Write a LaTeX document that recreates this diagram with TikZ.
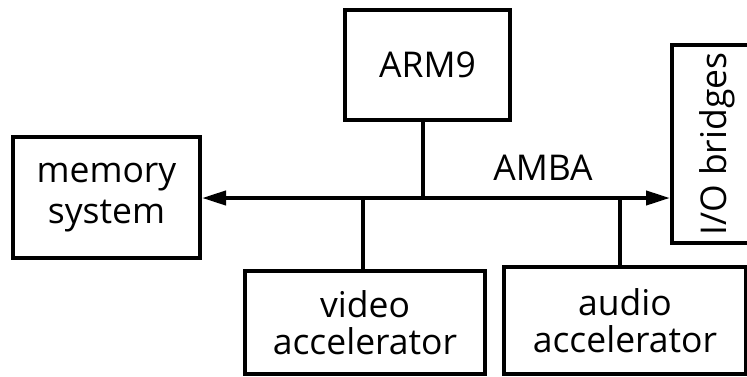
\documentclass[tikz,border=0pt]{standalone}
\usepackage{fontspec}
\setmainfont{Open Sans}
\usetikzlibrary{arrows.meta}
\tikzset{
  blk/.style={draw=black, line width=4pt, fill=none, inner sep=0pt, align=center,
    font=\fontsize{35.5}{37}\selectfont, text=black},
  lbl/.style={inner sep=0pt, font=\fontsize{35.5}{37}\selectfont, text=black},
  bus/.style={line width=4pt, {Triangle[length=24pt,width=14pt]}-{Triangle[length=24pt,width=14pt]}},
  tap/.style={line width=4pt}
}
\begin{document}
\begin{tikzpicture}[x=1pt,y=-1pt]
\useasboundingbox (0,0) rectangle (747,376);
\clip (0,0) rectangle (747,376);
\fill[white] (0,0) rectangle (747,376);
\node[blk, minimum width=165pt, minimum height=110pt] (arm) at (427.5,65) {ARM9};
\node[blk, minimum width=187pt, minimum height=121pt, font=\fontsize{35.5}{41}\selectfont] (mem) at (106.5,197.5) {memory\\system};
\node[blk, minimum width=90pt, minimum height=198pt] (io) at (717,144) {\rotatebox{90}{I/O bridges}};
\node[blk, minimum width=240pt, minimum height=103pt] (vid) at (365,322.5) {video\\accelerator};
\node[blk, minimum width=242pt, minimum height=107pt] (aud) at (625,320.5) {audio\\accelerator};
\node[lbl] (amba) at (543,168) {AMBA};
\draw[bus] (mem.east |- 0,198) coordinate (bl) -- (io.west |- 0,198) coordinate (br);
\coordinate (ja) at (423,198);
\coordinate (jv) at (363,198);
\coordinate (ju) at (620,198);
\draw[tap] (ja |- arm.south) -- (ja);
\draw[tap] (jv) -- (jv |- vid.north);
\draw[tap] (ju) -- (ju |- aud.north);
\end{tikzpicture}
\end{document}
